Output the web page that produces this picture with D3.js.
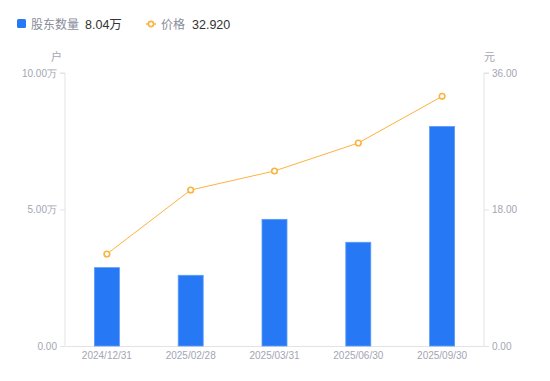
<!DOCTYPE html>
<html>
<head>
<meta charset="utf-8">
<script src="https://cdn.jsdelivr.net/npm/d3@7"></script>
<style>
  body { margin: 0; background: #fff; }
  svg { font-family: "Liberation Sans", Arial, "Noto Sans CJK SC", sans-serif; }
</style>
</head>
<body>
<div id="chart"></div>
<script>
// data
var dates = ["2024/12/31", "2025/02/28", "2025/03/31", "2025/06/30", "2025/09/30"];
var holders = [2.87, 2.59, 4.64, 3.80, 8.04];   // 万户
var prices = [12.13, 20.57, 23.08, 26.77, 32.92]; // 元
var leftTicks = [0, 5, 10];
var rightTicks = [0, 18, 36];

var width = 550, height = 381;
var margin = { top: 73, right: 66, bottom: 35, left: 65 };

var svg = d3.select("#chart").append("svg")
    .attr("width", width)
    .attr("height", height);

var x = d3.scaleBand()
    .domain(dates)
    .range([margin.left, width - margin.right]);

var yL = d3.scaleLinear().domain([0, 10]).range([height - margin.bottom, margin.top]);
var yR = d3.scaleLinear().domain([0, 36]).range([height - margin.bottom, margin.top]);

var axisColor = "#e3e3e6";
var labelColor = "#a3a5b3";

// left axis
var gL = svg.append("g")
    .attr("transform", "translate(" + margin.left + ",0)")
    .call(d3.axisLeft(yL).tickValues(leftTicks).tickSize(5).tickPadding(3)
        .tickFormat(function (d) { return d === 0 ? "0.00" : d.toFixed(2) + "万"; }));
gL.select(".domain").attr("stroke", axisColor).attr("d", "M-5," + yL(10) + "H0V" + yL(0));
gL.selectAll(".tick line").attr("stroke", axisColor);
gL.selectAll(".tick text").attr("fill", labelColor).style("font-size", "10px");

// right axis
var gR = svg.append("g")
    .attr("transform", "translate(" + (width - margin.right) + ",0)")
    .call(d3.axisRight(yR).tickValues(rightTicks).tickSize(5).tickPadding(3)
        .tickFormat(function (d) { return d.toFixed(2); }));
gR.select(".domain").attr("stroke", axisColor).attr("d", "M5," + yR(36) + "H0V" + yR(0));
gR.selectAll(".tick line").attr("stroke", axisColor);
gR.selectAll(".tick text").attr("fill", labelColor).style("font-size", "10px");

// bottom axis
var gB = svg.append("g")
    .attr("transform", "translate(0," + (height - margin.bottom) + ")")
    .call(d3.axisBottom(x).tickSize(0).tickPadding(6));
gB.select(".domain").attr("stroke", axisColor);
gB.selectAll(".tick text").attr("fill", labelColor).style("font-size", "10px");

// unit labels
svg.append("text").attr("x", margin.left - 3).attr("y", 61)
    .attr("text-anchor", "end").attr("fill", labelColor).style("font-size", "11px").text("户");
svg.append("text").attr("x", width - margin.right).attr("y", 61)
    .attr("text-anchor", "start").attr("fill", labelColor).style("font-size", "11px").text("元");

// bars
var barW = 25;
svg.selectAll(".bar")
    .data(holders)
    .enter().append("rect")
    .attr("class", "bar")
    .attr("x", function (d, i) { return x(dates[i]) + x.bandwidth() / 2 - barW / 2; })
    .attr("y", function (d) { return yL(d); })
    .attr("width", barW)
    .attr("height", function (d) { return yL(0) - yL(d); })
    .attr("fill", "#2778f5")
    .attr("stroke", "#5d9bf8")
    .attr("stroke-width", 0.8);

// price line
var line = d3.line()
    .x(function (d, i) { return x(dates[i]) + x.bandwidth() / 2; })
    .y(function (d) { return yR(d); });

svg.append("path")
    .datum(prices)
    .attr("fill", "none")
    .attr("stroke", "#fbb33d")
    .attr("stroke-width", 1)
    .attr("d", line);

svg.selectAll(".pt")
    .data(prices)
    .enter().append("circle")
    .attr("class", "pt")
    .attr("cx", function (d, i) { return x(dates[i]) + x.bandwidth() / 2; })
    .attr("cy", function (d) { return yR(d); })
    .attr("r", 2.8)
    .attr("fill", "#fff")
    .attr("stroke", "#fbb33d")
    .attr("stroke-width", 1.6);

// legend
var lg = svg.append("g");
lg.append("rect").attr("x", 17).attr("y", 19).attr("width", 9).attr("height", 9)
    .attr("rx", 1.5).attr("fill", "#2778f5");
lg.append("text").attr("x", 31).attr("y", 28.5).attr("fill", "#8a8c99")
    .style("font-size", "12px").text("股东数量");
lg.append("text").attr("x", 85).attr("y", 28.5).attr("fill", "#333")
    .style("font-size", "12.5px").text(d3.format(".2f")(holders[4]) + "万");

lg.append("line").attr("x1", 146).attr("x2", 156).attr("y1", 24).attr("y2", 24)
    .attr("stroke", "#fbb33d").attr("stroke-width", 1.5);
lg.append("circle").attr("cx", 151).attr("cy", 24).attr("r", 2.6)
    .attr("fill", "#fff").attr("stroke", "#fbb33d").attr("stroke-width", 1.6);
lg.append("text").attr("x", 161).attr("y", 28.5).attr("fill", "#8a8c99")
    .style("font-size", "12px").text("价格");
lg.append("text").attr("x", 192).attr("y", 28.5).attr("fill", "#333")
    .style("font-size", "12.5px").text(d3.format(".3f")(prices[4]));
</script>
</body>
</html>
